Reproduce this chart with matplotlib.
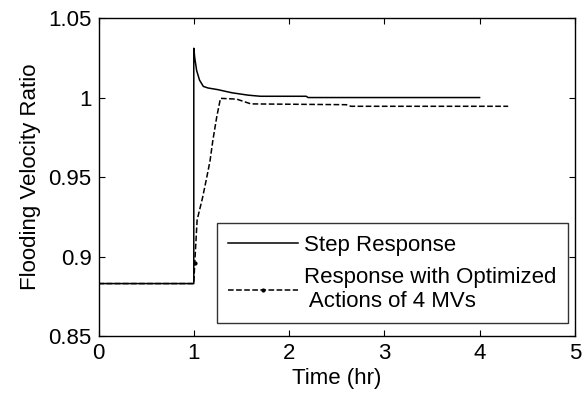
import numpy as np
import matplotlib.pyplot as plt

plt.rcParams['font.family'] = ['Liberation Sans', 'DejaVu Sans']

# step response
t_step = [0, 1.0, 1.0, 1.01, 1.03, 1.06, 1.1, 1.15, 1.25, 1.4, 1.57, 1.7, 2.18, 2.2, 4.0]
y_step = [0.883, 0.883, 1.031, 1.025, 1.017, 1.011, 1.007, 1.006, 1.005, 1.003, 1.0015, 1.0008, 1.0008, 1.0, 1.0]

# response with optimized actions of 4 MVs
t_opt = [0, 1.0, 1.01, 1.035, 1.09, 1.13, 1.17, 1.2, 1.24, 1.28, 1.45, 1.6, 2.6, 2.65, 4.3]
y_opt = [0.883, 0.883, 0.896, 0.923, 0.9365, 0.948, 0.96, 0.973, 0.9875, 0.9995, 0.999, 0.996, 0.9955, 0.9945, 0.9945]

xticks = [0, 1, 2, 3, 4, 5]
yticks = [0.85, 0.9, 0.95, 1.0, 1.05]
yticklabels = ['0.85', '0.9', '0.95', '1', '1.05']

fig = plt.figure(figsize=(5.83, 4.01), dpi=100)
ax = fig.add_axes([0.169, 0.162, 0.817, 0.793])

ax.plot(t_step, y_step, 'k-', lw=1.1, label='Step Response')
ax.plot(t_opt, y_opt, 'k--', lw=1.1, marker='.', markersize=4, markevery=[2],
        label='Response with Optimized\n Actions of 4 MVs')

ax.set_xlim(0, 5)
ax.set_ylim(0.85, 1.05)
ax.set_xticks(xticks)
ax.set_yticks(yticks)
ax.set_yticklabels(yticklabels)
ax.tick_params(direction='in', top=True, right=True, labelsize=16, length=4, pad=5)
for s in ax.spines.values():
    s.set_linewidth(1.0)

ax.set_xlabel('Time (hr)', fontsize=16, labelpad=3)
ax.set_ylabel('Flooding Velocity Ratio', fontsize=16, labelpad=5)

leg = ax.legend(loc='lower right', fontsize=16, frameon=True, fancybox=False,
                edgecolor='black', handlelength=3.15, borderpad=0.5,
                bbox_to_anchor=(0.9853, 0.041), borderaxespad=0,
                labelspacing=0.5, handletextpad=0.3)
leg.get_frame().set_linewidth(1.0)

fig.savefig('out.png', dpi=100)
